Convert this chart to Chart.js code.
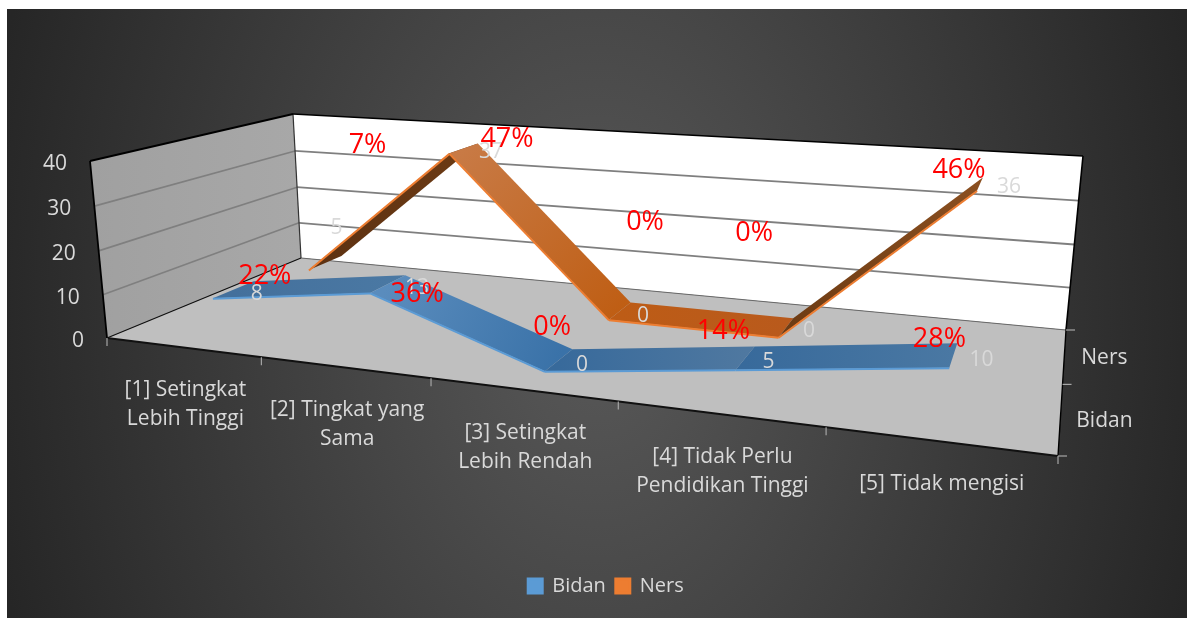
<!DOCTYPE html>
<html><head><meta charset="utf-8">
<style>html,body{margin:0;padding:0;background:#fff}canvas{display:block}</style>
<script src="https://cdn.jsdelivr.net/npm/chart.js@4"></script></head>
<body><canvas id="c" width="1187" height="618"></canvas>
<script>
const categories = [["[1] Setingkat","Lebih Tinggi"],["[2] Tingkat yang","Sama"],["[3] Setingkat","Lebih Rendah"],["[4] Tidak Perlu","Pendidikan Tinggi"],"[5] Tidak mengisi"];
const bidanValues = [8,13,0,5,10];
const nersValues = [5,37,0,0,36];
const bidanPercents = ["22%","36%","0%","14%","28%"];
const nersPercents = ["7%","47%","0%","0%","46%"];
const yTicks = {min:0,max:40,step:10};

// annotation offsets from each point (text boxes placed by hand in the original)
const bidanPercentOffsets = [[31,-13],[29,10],[-7,-33],[-22,-26],[-14,-16]];
const nersPercentOffsets = [[42,-118],[43,-9],[25,-89],[-32,-94],[-21,-14]];
const nersValueOffsets = [[11,-35],[27,4],[23,5],[23,3],[29,3]];
const bidanValueOffsets = [[23,4],[29,4],[23,5],[23,4],[28,5]];

// 3D box frame, in page pixels
const FL=[107,338],FR=[1058,456],BR=[1066,330],BL=[301,258];
const TFL=[90,161],TBR=[1083,156],TBL=[293,114];
const depthBands=[[0.15,0.35],[0.65,0.85]];
const seriesStyle=[
 {edge:'#5b9bd5',fills:[['#44709c','#4a78a3'],['#5a8cbd','#3a72a8'],['#386a9b','#4f78a0'],['#386a9b','#4a78a3']]},
 {edge:'#ed7d31',fills:[['#5e3212','#6b3a14'],['#c87a45','#bf5e14'],['#bd5c16','#b95a1c'],['#6e3c14','#8a4f20']]}
];
// projective box: floor homography extended with a height column fitted to the three visible top corners
function makeProjection(){
 const [x0,y0]=FL,[x1,y1]=FR,[x2,y2]=BR,[x3,y3]=BL;
 const dx1=x1-x2,dx2=x3-x2,sx=x0-x1+x2-x3,dy1=y1-y2,dy2=y3-y2,sy=y0-y1+y2-y3;
 const den=dx1*dy2-dx2*dy1,g=(sx*dy2-dx2*sy)/den,h=(dx1*sy-sx*dy1)/den;
 const a=x1-x0+g*x1,b=x3-x0+h*x3,d=y1-y0+g*y1,e=y3-y0+h*y3;
 const tops=[[0,0,TFL],[0,1,TBL],[1,1,TBR]];
 const rows=tops.map(([u,v,[x,y]])=>{const w=g*u+h*v+1;return {x,y,r:x*w-(a*u+b*v+x0),s:y*w-(d*u+e*v+y0)};});
 const mean=k=>rows.reduce((t,q)=>t+q[k],0)/3,mx=mean('x'),my=mean('y'),mr=mean('r'),ms=mean('s');
 let num=0,dn=0;rows.forEach(q=>{num+=(q.x-mx)*(q.r-mr)+(q.y-my)*(q.s-ms);dn+=(q.x-mx)**2+(q.y-my)**2;});
 const n=-num/dn,l=mr+mx*n,m=ms+my*n;
 return (u,v,t)=>{const w=g*u+h*v+1+n*t;return [(a*u+b*v+x0+l*t)/w,(d*u+e*v+y0+m*t)/w];};
}
const P=makeProjection();
function poly(c,pts,fill){c.beginPath();pts.forEach((p,i)=>i?c.lineTo(p[0],p[1]):c.moveTo(p[0],p[1]));c.closePath();c.fillStyle=fill;c.fill();}
function seg(c,a,b,col,w){c.beginPath();c.moveTo(a[0],a[1]);c.lineTo(b[0],b[1]);c.strokeStyle=col;c.lineWidth=w;c.stroke();}
const FONT='"Open Sans"';
const TXT='#d9d9d9';

const scene={id:'scene',
 beforeDraw(chart){
  const c=chart.ctx;
  c.save();
  c.fillStyle='#fff';c.fillRect(0,0,1187,618);
  c.beginPath();c.rect(7,9,1180,609);c.clip();
  c.translate(597,313);c.scale(1,1.45);
  const g=c.createRadialGradient(0,0,0,0,0,620);
  g.addColorStop(0,'#595959');g.addColorStop(1,'#262626');
  c.fillStyle=g;c.fillRect(-620,-320,1240,640);
  c.restore();
 },
 beforeDatasetsDraw(chart){
  const c=chart.ctx,X=chart.scales.x,Y=chart.scales.y;
  const hOf=v=>(Y.bottom-Y.getPixelForValue(v))/(Y.bottom-Y.top);
  const uOf=px=>(px-X.left)/X.width;
  c.save();
  // walls
  const lw=c.createLinearGradient(90,0,300,0);lw.addColorStop(0,'#a0a0a0');lw.addColorStop(1,'#a8a8a8');
  poly(c,[FL,TFL,TBL,BL],lw);
  poly(c,[BL,TBL,TBR,BR],'#ffffff');
  poly(c,[FL,BL,BR,FR],'#bfbfbf');
  // gridlines
  Y.ticks.forEach(t=>{
   if(t.value===yTicks.min||t.value===yTicks.max)return;
   const h=hOf(t.value);
   seg(c,P(0,0,h),P(0,1,h),'#7f7f7f',1.6);
   seg(c,P(0,1,h),P(1,1,h),'#7f7f7f',1.8);
  });
  // frame
  seg(c,BL,BR,'#6a6a6a',1.2);
  seg(c,FL,BL,'#111',1.2);
  seg(c,BL,TBL,'#333',1.2);
  seg(c,TFL,TBL,'#000',1.8);
  seg(c,TBL,TBR,'#000',1.6);
  seg(c,TBR,BR,'#000',1.6);
  seg(c,BR,FR,'#000',1.4);
  seg(c,FL,TFL,'#000',1.8);
  seg(c,FL,FR,'#111',1.8);
  // ticks
  for(let i=0;i<=categories.length;i++){const p=P(i/categories.length,0,0);seg(c,p,[p[0],p[1]+8],'#a6a6a6',1.2);}
  [0,.5,1].forEach(d=>{const p=P(1,d,0);seg(c,p,[p[0]+9,p[1]],'#a6a6a6',1.2);});
  // y tick labels
  c.font='21px '+FONT;c.fillStyle=TXT;c.textBaseline='middle';c.textAlign='right';
  Y.ticks.forEach(t=>{const p=P(0,0,hOf(t.value));c.fillText(String(t.value),p[0]-23,p[1]+3);});
  // category labels
  c.textAlign='center';
  chart.data.labels.forEach((l,i)=>{
   const p=P(uOf(X.getPixelForValue(i)),0,0);
   (Array.isArray(l)?l:[l]).forEach((s,k)=>c.fillText(s,p[0]+3,p[1]+43+k*29));
  });
  // series labels
  chart.data.datasets.forEach((ds,i)=>{
   const d=(depthBands[i][0]+depthBands[i][1])/2,p=P(1,d,0);
   c.fillText(ds.label,p[0]+42+(i?-2:2),p[1]+3);
  });
  const mids=[0,1].map(i=>{
   const [d0,d1]=depthBands[i],dm=(d0+d1)/2;
   return chart.getDatasetMeta(i).data.map(el=>P(uOf(el.x),dm,(Y.bottom-el.y)/(Y.bottom-Y.top)));
  });
  // ribbons: back series first
  [1,0].forEach(i=>{
   const els=chart.getDatasetMeta(i).data,[d0,d1]=depthBands[i],st=seriesStyle[i];
   const pt=(el,d)=>P(uOf(el.x),d,(Y.bottom-el.y)/(Y.bottom-Y.top));
   for(let j=0;j<els.length-1;j++){
    const a=pt(els[j],d0),b=pt(els[j+1],d0),e=pt(els[j+1],d1),f=pt(els[j],d1);
    const gr=c.createLinearGradient((a[0]+f[0])/2,(a[1]+f[1])/2,(b[0]+e[0])/2,(b[1]+e[1])/2);
    gr.addColorStop(0,st.fills[j][0]);gr.addColorStop(1,st.fills[j][1]);
    poly(c,[a,b,e,f],gr);
    seg(c,[a[0],a[1]+.5],[b[0],b[1]+.5],st.edge,2);
   }
  });
  // value labels
  c.fillStyle=TXT;c.font='21px '+FONT;
  const va=[bidanValueOffsets,nersValueOffsets];
  chart.data.datasets.forEach((ds,i)=>ds.data.forEach((v,j)=>{
   const p=mids[i][j];c.fillText(String(v),p[0]+va[i][j][0],p[1]+va[i][j][1]);
  }));
  // percent annotations
  c.fillStyle='#ff0000';c.font='27px '+FONT;
  [[bidanPercents,bidanPercentOffsets],[nersPercents,nersPercentOffsets]].forEach(([txt,off],i)=>txt.forEach((s,j)=>{
   const p=mids[i][j];c.fillText(s,p[0]+off[j][0],p[1]+off[j][1]);
  }));
  c.restore();
 }
};

new Chart(document.getElementById('c'),{
 type:'line',
 data:{labels:categories,datasets:[
  {label:'Bidan',data:bidanValues,backgroundColor:'#5b9bd5',borderColor:'#5b9bd5',showLine:false,pointRadius:0},
  {label:'Ners',data:nersValues,backgroundColor:'#ed7d31',borderColor:'#ed7d31',showLine:false,pointRadius:0}
 ]},
 plugins:[scene],
 options:{
  responsive:false,animation:false,
  layout:{padding:{left:25,right:0,top:161,bottom:12}},
  scales:{
   x:{offset:true,grid:{display:false},border:{display:false},ticks:{display:false},afterFit(s){s.height=228;}},
   y:{min:yTicks.min,max:yTicks.max,ticks:{stepSize:yTicks.step,display:false},grid:{display:false},border:{display:false},afterFit(s){s.width=0;}}
  },
  plugins:{
   tooltip:{enabled:false},
   legend:{position:'bottom',labels:{color:TXT,font:{family:'Open Sans',size:20},boxWidth:14,boxHeight:14,padding:10}}
  }
 }
});
</script></body></html>
